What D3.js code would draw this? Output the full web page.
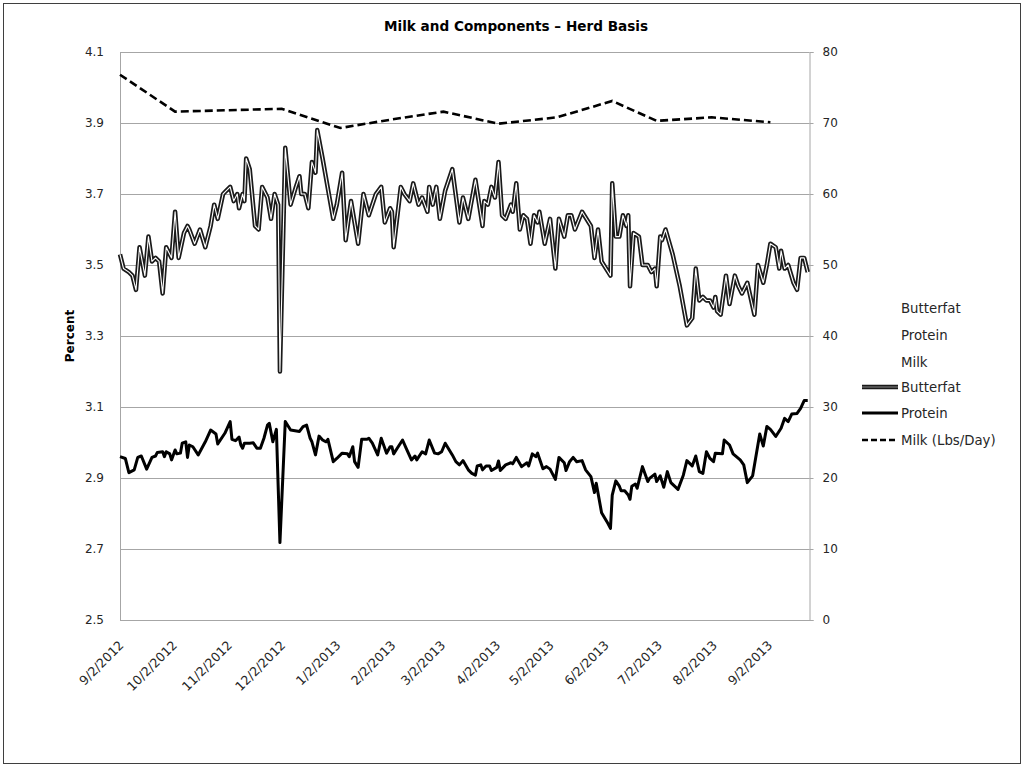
<!DOCTYPE html>
<html>
<head>
<meta charset="utf-8">
<script src="https://cdn.jsdelivr.net/npm/d3@7"></script>
<style>
  html, body { margin: 0; padding: 0; background: #fff; }
  svg { display: block; font-family: "DejaVu Sans", sans-serif; }
</style>
</head>
<body>
<svg id="chart" width="1029" height="772"></svg>
<script>
// ---------------- DATA ----------------
const chartTitle = "Milk and Components \u2013 Herd Basis";
const leftAxisTitle = "Percent";

const xTickLabels = ["9/2/2012","10/2/2012","11/2/2012","12/2/2012","1/2/2013","2/2/2013","3/2/2013","4/2/2013","5/2/2013","6/2/2013","7/2/2013","8/2/2013","9/2/2013"];
const xDomain = ["2012-09-02","2013-09-25"];
const leftTicks = [2.5, 2.7, 2.9, 3.1, 3.3, 3.5, 3.7, 3.9, 4.1];
const rightTicks = [0, 10, 20, 30, 40, 50, 60, 70, 80];

const butterfatDates = ["2012-09-02","2012-09-04","2012-09-07","2012-09-09","2012-09-11","2012-09-13","2012-09-16","2012-09-18","2012-09-20","2012-09-22","2012-09-24","2012-09-26","2012-09-28","2012-10-01","2012-10-03","2012-10-05","2012-10-08","2012-10-10","2012-10-11","2012-10-14","2012-10-17","2012-10-20","2012-10-23","2012-10-25","2012-10-27","2012-10-30","2012-11-01","2012-11-03","2012-11-05","2012-11-07","2012-11-08","2012-11-10","2012-11-11","2012-11-12","2012-11-14","2012-11-17","2012-11-19","2012-11-21","2012-11-24","2012-11-26","2012-11-28","2012-11-30","2012-12-01","2012-12-04","2012-12-07","2012-12-10","2012-12-12","2012-12-13","2012-12-15","2012-12-17","2012-12-19","2012-12-21","2012-12-22","2012-12-25","2012-12-31","2013-01-02","2013-01-05","2013-01-07","2013-01-10","2013-01-14","2013-01-17","2013-01-20","2013-01-24","2013-01-27","2013-01-29","2013-02-01","2013-02-02","2013-02-03","2013-02-07","2013-02-09","2013-02-12","2013-02-14","2013-02-17","2013-02-19","2013-02-22","2013-02-23","2013-02-25","2013-02-27","2013-03-01","2013-03-04","2013-03-08","2013-03-12","2013-03-14","2013-03-17","2013-03-21","2013-03-25","2013-03-26","2013-03-28","2013-03-30","2013-04-01","2013-04-03","2013-04-05","2013-04-07","2013-04-10","2013-04-11","2013-04-13","2013-04-15","2013-04-17","2013-04-19","2013-04-21","2013-04-23","2013-04-25","2013-04-26","2013-04-29","2013-05-02","2013-05-05","2013-05-07","2013-05-10","2013-05-12","2013-05-14","2013-05-16","2013-05-20","2013-05-25","2013-05-27","2013-05-29","2013-05-31","2013-06-05","2013-06-06","2013-06-08","2013-06-10","2013-06-12","2013-06-14","2013-06-15","2013-06-16","2013-06-18","2013-06-21","2013-06-23","2013-06-26","2013-06-28","2013-06-30","2013-07-01","2013-07-03","2013-07-04","2013-07-06","2013-07-10","2013-07-14","2013-07-18","2013-07-21","2013-07-23","2013-07-25","2013-07-27","2013-07-29","2013-07-31","2013-08-02","2013-08-03","2013-08-04","2013-08-06","2013-08-09","2013-08-11","2013-08-14","2013-08-16","2013-08-18","2013-08-21","2013-08-25","2013-08-27","2013-08-30","2013-09-01","2013-09-03","2013-09-06","2013-09-08","2013-09-09","2013-09-11","2013-09-13","2013-09-16","2013-09-18","2013-09-20","2013-09-22","2013-09-24"];
const butterfatValues = [3.53,3.49,3.48,3.47,3.43,3.55,3.47,3.58,3.51,3.52,3.51,3.42,3.55,3.52,3.65,3.52,3.59,3.61,3.60,3.56,3.60,3.55,3.61,3.67,3.63,3.70,3.71,3.72,3.68,3.70,3.66,3.70,3.68,3.80,3.77,3.61,3.60,3.72,3.69,3.63,3.70,3.67,3.20,3.83,3.67,3.72,3.75,3.70,3.70,3.66,3.79,3.76,3.88,3.80,3.63,3.67,3.76,3.57,3.68,3.56,3.70,3.64,3.70,3.72,3.62,3.66,3.65,3.55,3.72,3.70,3.68,3.73,3.67,3.69,3.65,3.72,3.67,3.72,3.63,3.71,3.77,3.62,3.69,3.63,3.74,3.61,3.68,3.67,3.72,3.69,3.79,3.64,3.63,3.67,3.65,3.73,3.60,3.64,3.63,3.56,3.64,3.62,3.65,3.56,3.63,3.49,3.63,3.58,3.64,3.64,3.60,3.65,3.61,3.52,3.60,3.51,3.47,3.73,3.58,3.58,3.64,3.61,3.64,3.44,3.59,3.58,3.50,3.50,3.48,3.49,3.44,3.58,3.57,3.60,3.53,3.44,3.33,3.35,3.49,3.40,3.41,3.40,3.40,3.38,3.41,3.37,3.36,3.47,3.39,3.47,3.44,3.42,3.45,3.36,3.50,3.45,3.50,3.56,3.55,3.49,3.54,3.49,3.50,3.45,3.43,3.52,3.52,3.48];

const proteinDates = ["2012-09-02","2012-09-05","2012-09-07","2012-09-10","2012-09-12","2012-09-14","2012-09-17","2012-09-20","2012-09-22","2012-09-23","2012-09-26","2012-09-27","2012-09-28","2012-09-30","2012-10-01","2012-10-03","2012-10-04","2012-10-06","2012-10-07","2012-10-09","2012-10-10","2012-10-11","2012-10-13","2012-10-16","2012-10-20","2012-10-23","2012-10-26","2012-10-27","2012-10-31","2012-11-03","2012-11-04","2012-11-06","2012-11-08","2012-11-09","2012-11-10","2012-11-11","2012-11-14","2012-11-16","2012-11-18","2012-11-20","2012-11-22","2012-11-24","2012-11-25","2012-11-27","2012-11-29","2012-12-01","2012-12-04","2012-12-07","2012-12-12","2012-12-14","2012-12-16","2012-12-18","2012-12-19","2012-12-21","2012-12-23","2012-12-25","2012-12-27","2012-12-28","2012-12-31","2013-01-02","2013-01-05","2013-01-08","2013-01-09","2013-01-11","2013-01-12","2013-01-14","2013-01-16","2013-01-19","2013-01-20","2013-01-22","2013-01-25","2013-01-27","2013-01-30","2013-02-01","2013-02-02","2013-02-03","2013-02-05","2013-02-08","2013-02-10","2013-02-13","2013-02-15","2013-02-16","2013-02-19","2013-02-21","2013-02-23","2013-02-26","2013-02-28","2013-03-02","2013-03-04","2013-03-08","2013-03-10","2013-03-12","2013-03-14","2013-03-17","2013-03-19","2013-03-21","2013-03-22","2013-03-24","2013-03-25","2013-03-27","2013-03-29","2013-03-30","2013-04-02","2013-04-03","2013-04-04","2013-04-07","2013-04-10","2013-04-11","2013-04-13","2013-04-16","2013-04-19","2013-04-20","2013-04-22","2013-04-24","2013-04-25","2013-04-28","2013-04-30","2013-05-02","2013-05-05","2013-05-07","2013-05-10","2013-05-11","2013-05-13","2013-05-15","2013-05-17","2013-05-20","2013-05-22","2013-05-25","2013-05-27","2013-05-28","2013-05-31","2013-06-03","2013-06-05","2013-06-06","2013-06-08","2013-06-10","2013-06-11","2013-06-13","2013-06-15","2013-06-16","2013-06-17","2013-06-19","2013-06-20","2013-06-23","2013-06-26","2013-06-27","2013-06-30","2013-07-01","2013-07-03","2013-07-05","2013-07-07","2013-07-09","2013-07-13","2013-07-16","2013-07-18","2013-07-21","2013-07-23","2013-07-25","2013-07-27","2013-07-29","2013-07-31","2013-08-02","2013-08-03","2013-08-07","2013-08-08","2013-08-11","2013-08-13","2013-08-17","2013-08-19","2013-08-21","2013-08-24","2013-08-28","2013-08-30","2013-09-01","2013-09-03","2013-09-06","2013-09-09","2013-09-11","2013-09-13","2013-09-15","2013-09-18","2013-09-20","2013-09-22","2013-09-24"];
const proteinValues = [2.960,2.955,2.915,2.923,2.958,2.962,2.925,2.958,2.962,2.972,2.974,2.960,2.974,2.968,2.951,2.979,2.968,2.970,2.998,3.002,2.958,2.993,2.988,2.965,3.002,3.035,3.024,2.996,3.026,3.059,3.009,3.005,3.015,2.993,2.984,2.998,2.998,2.999,2.984,2.984,3.012,3.049,3.054,3.002,3.037,2.718,3.059,3.035,3.031,3.045,3.049,3.012,3.002,2.965,3.018,3.007,3.002,3.009,2.946,2.955,2.970,2.968,2.960,2.988,2.946,2.930,3.009,3.009,3.012,2.998,2.965,3.012,2.970,2.988,2.988,2.968,2.984,3.007,2.984,2.951,2.962,2.951,2.974,2.968,3.007,2.970,2.968,2.974,2.998,2.965,2.946,2.937,2.949,2.923,2.913,2.908,2.934,2.937,2.923,2.934,2.934,2.921,2.930,2.948,2.921,2.937,2.943,2.940,2.958,2.932,2.943,2.934,2.968,2.960,2.970,2.926,2.932,2.925,2.896,2.958,2.943,2.921,2.946,2.958,2.946,2.949,2.923,2.904,2.859,2.885,2.802,2.777,2.758,2.852,2.892,2.877,2.864,2.864,2.852,2.840,2.877,2.883,2.871,2.932,2.890,2.899,2.911,2.890,2.906,2.874,2.918,2.887,2.868,2.908,2.949,2.934,2.962,2.918,2.913,2.974,2.955,2.946,2.970,2.968,3.007,2.993,2.968,2.951,2.937,2.887,2.906,3.024,2.990,3.045,3.037,3.017,3.040,3.068,3.059,3.080,3.082,3.096,3.118,3.118];

const milkDates = ["2012-09-02","2012-10-03","2012-11-02","2012-12-02","2013-01-04","2013-02-02","2013-03-03","2013-04-03","2013-05-06","2013-06-06","2013-07-01","2013-08-01","2013-09-03"];
const milkValues = [76.8,71.6,71.8,72.0,69.3,70.5,71.6,69.9,70.8,73.1,70.3,70.8,70.1];

const legendLabels = ["Butterfat","Protein","Milk","Butterfat","Protein","Milk (Lbs/Day)"];

// ---------------- DRAW ----------------
const parseISO = d3.timeParse("%Y-%m-%d");
const parseUS = d3.timeParse("%m/%d/%Y");
const svg = d3.select("#chart");
const textColor = "#262626";

const plot = { left: 120, right: 809.5, top: 52, bottom: 620 };

const x = d3.scaleTime().domain(xDomain.map(parseISO)).range([plot.left, plot.right]);
const yL = d3.scaleLinear().domain([2.5, 4.1]).range([plot.bottom, plot.top]);
const yR = d3.scaleLinear().domain([0, 80]).range([plot.bottom, plot.top]);

// outer border
svg.append("rect").attr("x", 3.5).attr("y", 3.5).attr("width", 1017).attr("height", 760)
  .attr("fill", "#fff").attr("stroke", "#3f3f3f").attr("stroke-width", 1);

// title
svg.append("text").attr("x", 516).attr("y", 31).attr("text-anchor", "middle")
  .attr("font-size", 13.6).attr("font-weight", "bold").attr("fill", "#000").text(chartTitle);

// gridlines
svg.append("g").selectAll("line").data(leftTicks).join("line")
  .attr("x1", plot.left).attr("x2", plot.right)
  .attr("y1", d => Math.round(yL(d)) + 0.5).attr("y2", d => Math.round(yL(d)) + 0.5)
  .attr("stroke", "#a6a6a6").attr("stroke-width", 1);

// left axis
const leftAxis = d3.axisLeft(yL).tickValues(leftTicks).tickSize(0).tickPadding(16)
  .tickFormat(d3.format(".1f"));
const gL = svg.append("g").attr("transform", `translate(${plot.left},0)`).call(leftAxis);
gL.select(".domain").attr("stroke", "#a6a6a6");
gL.selectAll("text").attr("font-size", 12).attr("fill", textColor).attr("font-family", "DejaVu Sans");

// right axis
const rightAxis = d3.axisRight(yR).tickValues(rightTicks).tickSize(4).tickPadding(9);
const gR = svg.append("g").attr("transform", `translate(${plot.right},0)`).call(rightAxis);
gR.select(".domain").attr("stroke", "#a6a6a6");
gR.selectAll(".tick line").attr("stroke", "#a6a6a6");
gR.selectAll("text").attr("font-size", 12).attr("fill", textColor).attr("font-family", "DejaVu Sans");

// bottom axis
const xTickDates = xTickLabels.map(parseUS);
const bottomAxis = d3.axisBottom(x).tickValues(xTickDates).tickSize(0)
  .tickFormat((d, i) => xTickLabels[i]);
const gB = svg.append("g").attr("transform", `translate(0,${plot.bottom})`).call(bottomAxis);
gB.select(".domain").attr("stroke", "#a6a6a6");
gB.selectAll("text").attr("font-size", 12.6).attr("fill", textColor).attr("font-family", "DejaVu Sans")
  .attr("text-anchor", "end").attr("dy", null).attr("y", 0)
  .attr("transform", "translate(4,26) rotate(-45)");

// left axis title
svg.append("text").attr("transform", "translate(74,336) rotate(-90)")
  .attr("text-anchor", "middle").attr("font-size", 12).attr("font-weight", "bold").text(leftAxisTitle);

// lines
const bfData = butterfatDates.map((d, i) => ({ date: parseISO(d), v: butterfatValues[i] }));
const prData = proteinDates.map((d, i) => ({ date: parseISO(d), v: proteinValues[i] }));
const mkData = milkDates.map((d, i) => ({ date: parseISO(d), v: milkValues[i] }));

const lineL = d3.line().x(d => x(d.date)).y(d => yL(d.v)).defined(d => d.v != null);
const lineR = d3.line().x(d => x(d.date)).y(d => yR(d.v));

const gLines = svg.append("g");
gLines.append("path").datum(prData).attr("d", lineL)
  .attr("fill", "none").attr("stroke", "#000").attr("stroke-width", 3).attr("stroke-linejoin", "round");
gLines.append("path").datum(bfData).attr("d", lineL)
  .attr("fill", "none").attr("stroke", "#1a1a1a").attr("stroke-width", 4.5).attr("stroke-linejoin", "round");
gLines.append("path").datum(bfData).attr("d", lineL)
  .attr("fill", "none").attr("stroke", "#ffffff").attr("stroke-width", 1.1).attr("stroke-linejoin", "round");
gLines.append("path").datum(mkData).attr("d", lineR)
  .attr("fill", "none").attr("stroke", "#000").attr("stroke-width", 2.6)
  .attr("stroke-dasharray", "8,4");

// legend
const legendY = [308, 335, 362, 387, 413, 440];
const lg = svg.append("g").attr("font-size", 13.3).attr("fill", textColor);
legendLabels.forEach((lab, i) => {
  lg.append("text").attr("x", 901).attr("y", legendY[i]).attr("dy", "0.35em").text(lab);
});
lg.append("line").attr("x1", 862).attr("x2", 898).attr("y1", legendY[3]).attr("y2", legendY[3])
  .attr("stroke", "#1a1a1a").attr("stroke-width", 4.5);
lg.append("line").attr("x1", 862).attr("x2", 898).attr("y1", legendY[3]).attr("y2", legendY[3])
  .attr("stroke", "#888").attr("stroke-width", 1.1);
lg.append("line").attr("x1", 862).attr("x2", 898).attr("y1", legendY[4]).attr("y2", legendY[4])
  .attr("stroke", "#000").attr("stroke-width", 3);
lg.append("line").attr("x1", 862).attr("x2", 898).attr("y1", legendY[5]).attr("y2", legendY[5])
  .attr("stroke", "#000").attr("stroke-width", 2.6).attr("stroke-dasharray", "6,3");
</script>
</body>
</html>
